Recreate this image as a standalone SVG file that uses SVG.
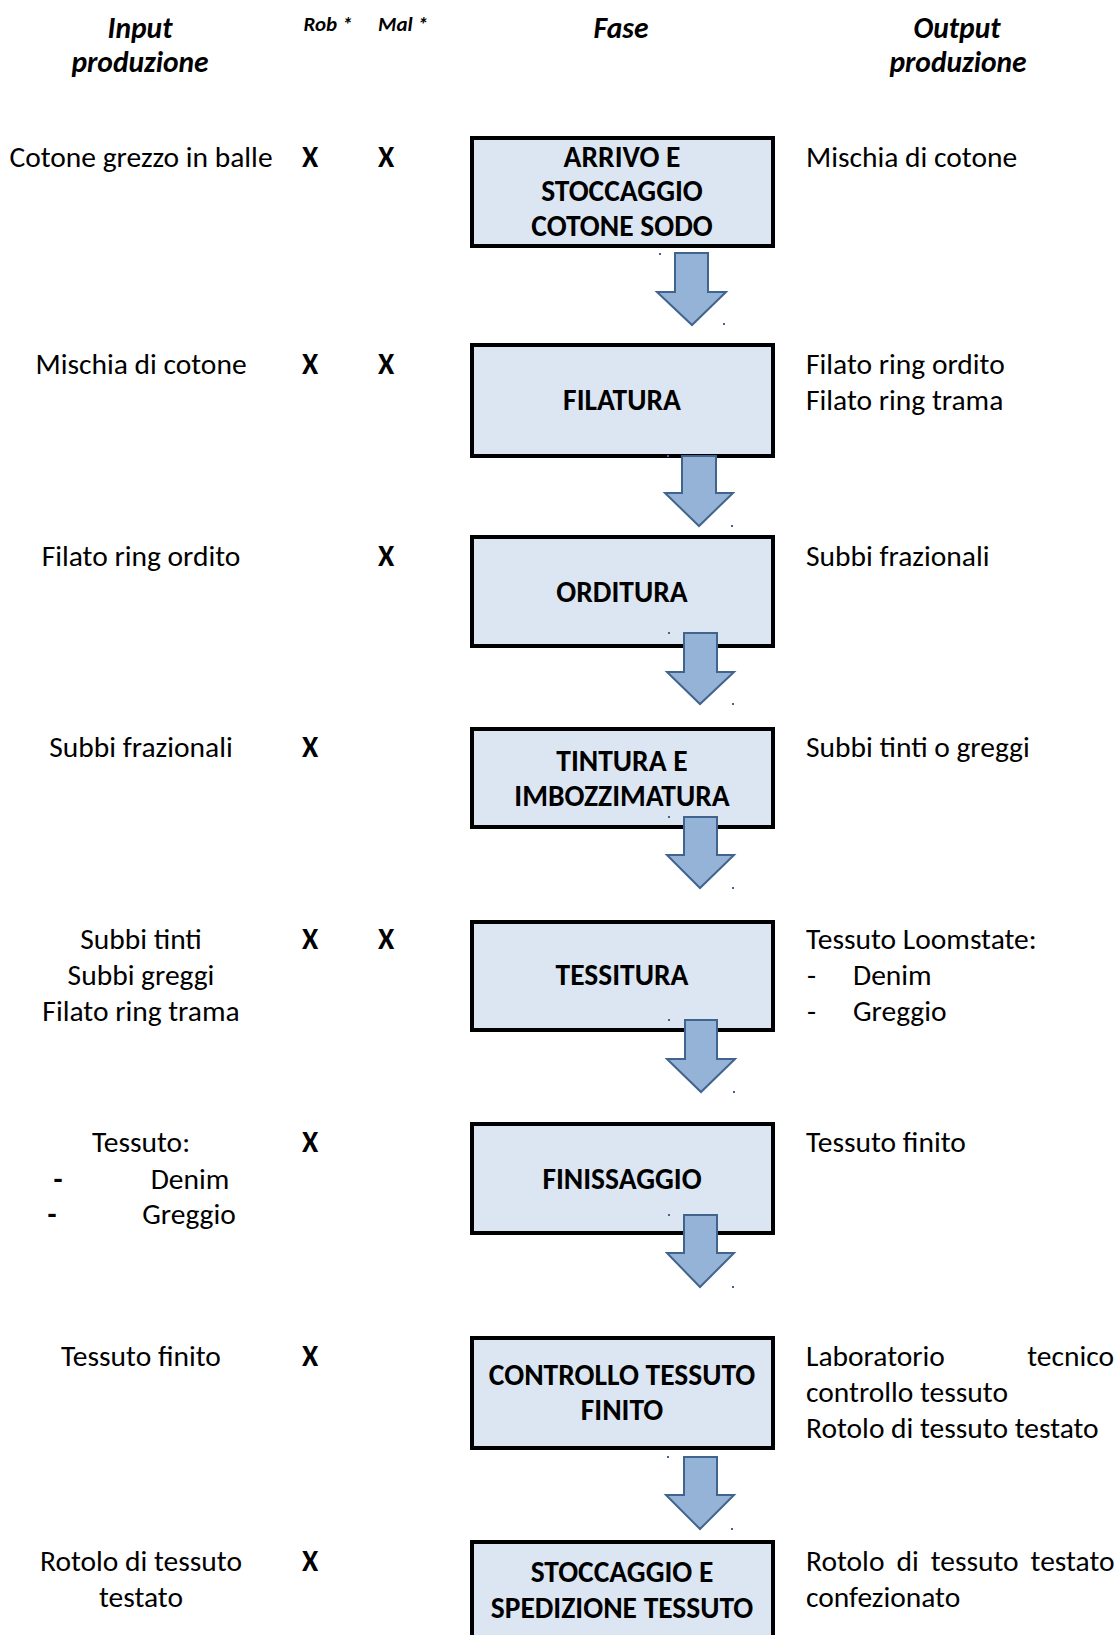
<svg xmlns="http://www.w3.org/2000/svg" width="1118" height="1635" viewBox="0 0 1118 1635">
<style>
text{font-family:Carlito,"Open Sans","Liberation Sans",sans-serif;fill:#000}
.t{font-size:29.5px}
.c{text-anchor:middle}
.b{font-weight:bold}
.h{font-weight:bold;font-style:italic;font-size:29.5px;text-anchor:middle}
.s{font-weight:bold;font-style:italic;font-size:21px;text-anchor:middle}
.x{font-weight:bold;font-size:29.5px;text-anchor:middle}
.box{fill:#DCE6F2;stroke:#000;stroke-width:4}
.bt{font-weight:bold;font-size:29.5px;text-anchor:middle}
.arr{fill:#95B3D7;stroke:#41648F;stroke-width:2;stroke-linejoin:miter}
.dot{fill:#41648F}
</style>
<rect width="1118" height="1635" fill="#fff"/>
<g id="headers">
<text class="h" x="140" y="38">Input</text>
<text class="h" x="140" y="72">produzione</text>
<text class="s" x="328" y="31">Rob *</text>
<text class="s" x="403" y="31">Mal *</text>
<text class="h" x="621" y="38">Fase</text>
<text class="h" x="957" y="38">Output</text>
<text class="h" x="958" y="72">produzione</text>
</g>
<g id="inputs">
<text class="t c" x="141" y="167">Cotone grezzo in balle</text>
<text class="t c" x="141" y="374">Mischia di cotone</text>
<text class="t c" x="141" y="566">Filato ring ordito</text>
<text class="t c" x="141" y="757">Subbi frazionali</text>
<text class="t c" x="141" y="949">Subbi tinti</text>
<text class="t c" x="141" y="985">Subbi greggi</text>
<text class="t c" x="141" y="1021">Filato ring trama</text>
<text class="t c" x="141" y="1152">Tessuto:</text>
<text class="t c b" x="58" y="1189">-</text>
<text class="t c" x="190" y="1189">Denim</text>
<text class="t c b" x="52" y="1224">-</text>
<text class="t c" x="189" y="1224">Greggio</text>
<text class="t c" x="141" y="1366">Tessuto finito</text>
<text class="t c" x="141" y="1571">Rotolo di tessuto</text>
<text class="t c" x="141" y="1607">testato</text>
</g>
<g id="marks">
<text class="x" x="310" y="167">X</text>
<text class="x" x="386" y="167">X</text>
<text class="x" x="310" y="374">X</text>
<text class="x" x="386" y="374">X</text>
<text class="x" x="386" y="566">X</text>
<text class="x" x="310" y="757">X</text>
<text class="x" x="310" y="949">X</text>
<text class="x" x="386" y="949">X</text>
<text class="x" x="310" y="1152">X</text>
<text class="x" x="310" y="1366">X</text>
<text class="x" x="310" y="1571">X</text>
</g>
<g id="outputs">
<text class="t" x="806" y="167">Mischia di cotone</text>
<text class="t" x="806" y="374">Filato ring ordito</text>
<text class="t" x="806" y="410">Filato ring trama</text>
<text class="t" x="806" y="566">Subbi frazionali</text>
<text class="t" x="806" y="757">Subbi tinti o greggi</text>
<text class="t" x="806" y="949">Tessuto Loomstate:</text>
<text class="t" x="807" y="985">-</text>
<text class="t" x="853" y="985">Denim</text>
<text class="t" x="807" y="1021">-</text>
<text class="t" x="853" y="1021">Greggio</text>
<text class="t" x="806" y="1152">Tessuto finito</text>
<text class="t" x="806" y="1366">Laboratorio<tspan x="1114" text-anchor="end">tecnico</tspan></text>
<text class="t" x="806" y="1402">controllo tessuto</text>
<text class="t" x="806" y="1438">Rotolo di tessuto testato</text>
<text class="t" x="806" y="1571" word-spacing="5.3">Rotolo di tessuto testato</text>
<text class="t" x="806" y="1607">confezionato</text>
</g>
<g id="node-arrivo">
<rect class="box" x="472" y="138" width="301" height="108"/>
<text class="bt" x="622" y="167">ARRIVO E</text>
<text class="bt" x="622" y="201">STOCCAGGIO</text>
<text class="bt" x="622" y="236">COTONE SODO</text>
</g>
<g id="node-filatura">
<rect class="box" x="472" y="345" width="301" height="111"/>
<text class="bt" x="622" y="410">FILATURA</text>
</g>
<g id="node-orditura">
<rect class="box" x="472" y="537" width="301" height="109"/>
<text class="bt" x="622" y="602">ORDITURA</text>
</g>
<g id="node-tintura">
<rect class="box" x="472" y="729" width="301" height="98"/>
<text class="bt" x="622" y="771">TINTURA E</text>
<text class="bt" x="622" y="806">IMBOZZIMATURA</text>
</g>
<g id="node-tessitura">
<rect class="box" x="472" y="922" width="301" height="108"/>
<text class="bt" x="622" y="985">TESSITURA</text>
</g>
<g id="node-finissaggio">
<rect class="box" x="472" y="1124" width="301" height="109"/>
<text class="bt" x="622" y="1189">FINISSAGGIO</text>
</g>
<g id="node-controllo">
<rect class="box" x="472" y="1338" width="301" height="110"/>
<text class="bt" x="622" y="1385">CONTROLLO TESSUTO</text>
<text class="bt" x="622" y="1420">FINITO</text>
</g>
<g id="node-spedizione">
<rect class="box" x="472" y="1542" width="301" height="110"/>
<text class="bt" x="622" y="1582">STOCCAGGIO E</text>
<text class="bt" x="622" y="1618">SPEDIZIONE TESSUTO</text>
</g>
<g id="connectors">
<path class="arr" d="M675,253H708V292H726L692,325L657,292H675Z"/>
<path class="arr" d="M682,456H716V493H733L699,526L665,493H682Z"/>
<path class="arr" d="M684,633H717V672H734L700,704L667,672H684Z"/>
<path class="arr" d="M684,817H717V855H734L700,888L667,855H684Z"/>
<path class="arr" d="M685,1020H717V1059H735L701,1092L667,1059H685Z"/>
<path class="arr" d="M684,1215H717V1253H734L700,1287L667,1253H684Z"/>
<path class="arr" d="M684,1457H717V1495H734L700,1529L666,1495H684Z"/>
<rect class="dot" x="659" y="253" width="2" height="2"/>
<rect class="dot" x="723" y="323" width="2" height="2"/>
<rect class="dot" x="667" y="455" width="2" height="2"/>
<rect class="dot" x="731" y="525" width="2" height="2"/>
<rect class="dot" x="668" y="632" width="2" height="2"/>
<rect class="dot" x="732" y="703" width="2" height="2"/>
<rect class="dot" x="668" y="816" width="2" height="2"/>
<rect class="dot" x="732" y="887" width="2" height="2"/>
<rect class="dot" x="668" y="1019" width="2" height="2"/>
<rect class="dot" x="733" y="1091" width="2" height="2"/>
<rect class="dot" x="668" y="1214" width="2" height="2"/>
<rect class="dot" x="732" y="1286" width="2" height="2"/>
<rect class="dot" x="667" y="1456" width="2" height="2"/>
<rect class="dot" x="731" y="1528" width="2" height="2"/>
</g>
</svg>
